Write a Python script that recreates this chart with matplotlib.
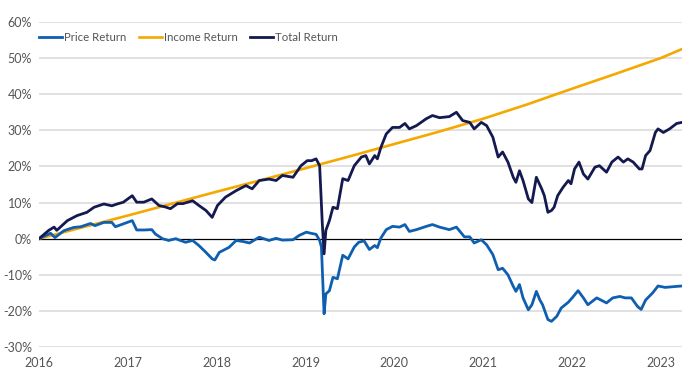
import matplotlib
matplotlib.use('Agg')
import matplotlib.pyplot as plt
import matplotlib.ticker as mticker

# cumulative returns (%)
income_t = [2016.0, 2016.5, 2017.0, 2017.5, 2018.0, 2018.5, 2019.0, 2019.5,
            2020.0, 2020.5, 2021.0, 2021.5, 2022.0, 2022.5, 2023.0, 2023.24]
income_v = [0.0, 3.2, 6.4, 9.7, 13.0, 16.2, 19.5, 22.8,
            26.2, 29.6, 33.2, 37.2, 41.5, 45.7, 50.0, 52.5]

price_t = [2016.0, 2016.07, 2016.13, 2016.18, 2016.28, 2016.39, 2016.47, 2016.58,
           2016.63, 2016.73, 2016.82, 2016.86, 2016.95, 2017.05, 2017.10, 2017.18,
           2017.27, 2017.31, 2017.39, 2017.46, 2017.54, 2017.58, 2017.65, 2017.73,
           2017.80, 2017.88, 2017.95, 2017.98, 2018.03, 2018.14, 2018.22, 2018.30,
           2018.37, 2018.48, 2018.59, 2018.67, 2018.74, 2018.86, 2018.93, 2019.01,
           2019.06, 2019.12, 2019.16, 2019.18, 2019.21, 2019.23, 2019.27, 2019.31,
           2019.36, 2019.42, 2019.48, 2019.55, 2019.60, 2019.66, 2019.72, 2019.78,
           2019.81, 2019.85, 2019.91, 2019.98, 2020.06, 2020.12, 2020.17, 2020.25,
           2020.36, 2020.43, 2020.51, 2020.62, 2020.70, 2020.74, 2020.79, 2020.85,
           2020.90, 2020.98, 2021.04, 2021.11, 2021.17, 2021.22, 2021.28, 2021.34,
           2021.37, 2021.41, 2021.45, 2021.51, 2021.55, 2021.60, 2021.64, 2021.67,
           2021.73, 2021.77, 2021.83, 2021.88, 2021.96, 2022.01, 2022.07, 2022.13,
           2022.18, 2022.28, 2022.39, 2022.46, 2022.54, 2022.60, 2022.67, 2022.74,
           2022.78, 2022.83, 2022.91, 2022.97, 2023.05, 2023.14, 2023.24]
price_v = [0.0, 0.8, 1.5, 0.3, 2.2, 3.1, 3.3, 4.2,
           3.6, 4.5, 4.5, 3.3, 4.1, 5.0, 2.4, 2.4,
           2.5, 1.3, 0.0, -0.5, 0.0, -0.4, -1.0, -0.5,
           -1.9, -3.8, -5.6, -5.9, -3.8, -2.4, -0.5, -0.8,
           -1.2, 0.4, -0.5, 0.1, -0.4, -0.3, 0.9, 1.8,
           1.5, 1.2, -0.5, -2.3, -20.8, -15.3, -14.4, -10.7,
           -11.1, -4.6, -5.6, -2.3, -1.0, -0.6, -3.0, -1.9,
           -2.5, 0.2, 2.5, 3.4, 3.2, 3.9, 2.0, 2.5,
           3.4, 3.9, 3.2, 2.5, 3.2, 2.0, 0.5, 0.5,
           -1.2, -0.3, -1.7, -4.4, -8.6, -8.2, -10.0, -13.2,
           -14.6, -12.7, -16.4, -19.7, -18.3, -14.6, -17.0, -18.3,
           -22.4, -22.9, -21.5, -19.2, -17.6, -16.2, -14.4, -16.4,
           -18.3, -16.4, -17.8, -16.4, -16.0, -16.4, -16.4, -18.8,
           -19.6, -17.0, -15.0, -13.1, -13.5, -13.3, -13.1]

total_t = [2016.0, 2016.11, 2016.17, 2016.20, 2016.32, 2016.43, 2016.54, 2016.62,
           2016.73, 2016.82, 2016.88, 2016.95, 2017.05, 2017.10, 2017.18, 2017.27,
           2017.35, 2017.42, 2017.48, 2017.56, 2017.62, 2017.73, 2017.80, 2017.88,
           2017.95, 2018.01, 2018.10, 2018.22, 2018.33, 2018.40, 2018.48, 2018.59,
           2018.67, 2018.74, 2018.86, 2018.95, 2019.02, 2019.07, 2019.12, 2019.16,
           2019.19, 2019.21, 2019.23, 2019.27, 2019.31, 2019.36, 2019.42, 2019.48,
           2019.55, 2019.63, 2019.68, 2019.72, 2019.78, 2019.81, 2019.85, 2019.91,
           2019.98, 2020.06, 2020.12, 2020.17, 2020.25, 2020.36, 2020.43, 2020.51,
           2020.62, 2020.70, 2020.77, 2020.85, 2020.90, 2020.98, 2021.04, 2021.11,
           2021.17, 2021.22, 2021.28, 2021.34, 2021.37, 2021.41, 2021.45, 2021.51,
           2021.55, 2021.60, 2021.66, 2021.69, 2021.73, 2021.77, 2021.80, 2021.84,
           2021.90, 2021.96, 2021.99, 2022.03, 2022.08, 2022.13, 2022.18, 2022.26,
           2022.31, 2022.39, 2022.45, 2022.52, 2022.58, 2022.63, 2022.69, 2022.76,
           2022.79, 2022.83, 2022.88, 2022.94, 2022.97, 2023.03, 2023.10, 2023.18,
           2023.24]
total_v = [0.0, 2.3, 3.2, 2.3, 5.0, 6.4, 7.3, 8.7,
           9.6, 9.1, 9.6, 10.1, 11.9, 10.1, 10.1, 11.0,
           9.2, 8.8, 8.3, 9.7, 9.7, 10.5, 9.2, 7.8,
           5.9, 9.2, 11.5, 13.3, 14.7, 13.8, 16.1, 16.5,
           16.1, 17.5, 17.0, 20.2, 21.6, 21.6, 22.1, 20.2,
           4.1, -4.2, 2.3, 5.0, 8.7, 8.3, 16.6, 16.1,
           20.2, 22.6, 23.0, 20.7, 23.0, 22.1, 25.3, 29.0,
           30.8, 30.8, 31.9, 30.4, 31.3, 33.2, 34.1, 33.5,
           33.8, 35.0, 32.7, 32.2, 30.4, 32.2, 31.3, 28.1,
           22.6, 24.0, 21.2, 17.0, 15.6, 18.8, 16.1, 11.0,
           10.0, 17.0, 13.8, 11.9, 7.3, 7.8, 8.7, 11.9,
           14.2, 16.1, 15.2, 19.3, 21.2, 17.9, 16.5, 19.8,
           20.2, 18.4, 21.2, 22.6, 21.2, 22.1, 21.2, 19.3,
           19.3, 23.0, 24.4, 29.4, 30.4, 29.4, 30.4, 31.9,
           32.2]

years = list(range(2016, 2024))
yticks = list(range(-30, 70, 10))

# colours
c_price = '#0f5fb0'
c_income = '#f5a800'
c_total = '#141a4f'
c_text = '#555555'

plt.rcParams['font.family'] = ['Lato', 'DejaVu Sans']

fig = plt.figure(figsize=(7.0, 3.85), dpi=100)
ax = fig.add_axes([0.0557, 0.0987, 0.9186, 0.8442])

for y in yticks:
    if y == 0:
        continue
    ax.axhline(y, color='#dcdcdc', lw=1.2, zorder=0)
ax.axhline(0, color='#000000', lw=0.9, zorder=1)

ax.plot(price_t, price_v, color=c_price, lw=2.0, label='Price Return', zorder=3)
ax.plot(income_t, income_v, color=c_income, lw=1.9, label='Income Return', zorder=2)
ax.plot(total_t, total_v, color=c_total, lw=2.0, label='Total Return', zorder=4)

ax.set_xlim(2016, 2023.24)
ax.set_ylim(-30, 60)
ax.set_xticks(years)
ax.set_xticklabels([str(y) for y in years])
ax.set_yticks(yticks)
ax.yaxis.set_major_formatter(mticker.FuncFormatter(lambda v, p: '%d%%' % v))
ax.tick_params(axis='both', length=0, labelsize=9, colors=c_text)
ax.tick_params(axis='y', pad=5)
ax.tick_params(axis='x', pad=7)

for s in ax.spines.values():
    s.set_visible(False)

leg = ax.legend(loc='center left', bbox_to_anchor=(0.0, 0.951), ncol=3,
                frameon=False, fontsize=8.2, handlelength=2.0,
                handletextpad=0.2, columnspacing=1.1, borderaxespad=0,
                borderpad=0)
for txt in leg.get_texts():
    txt.set_color(c_text)

fig.savefig('out.png', dpi=100)
